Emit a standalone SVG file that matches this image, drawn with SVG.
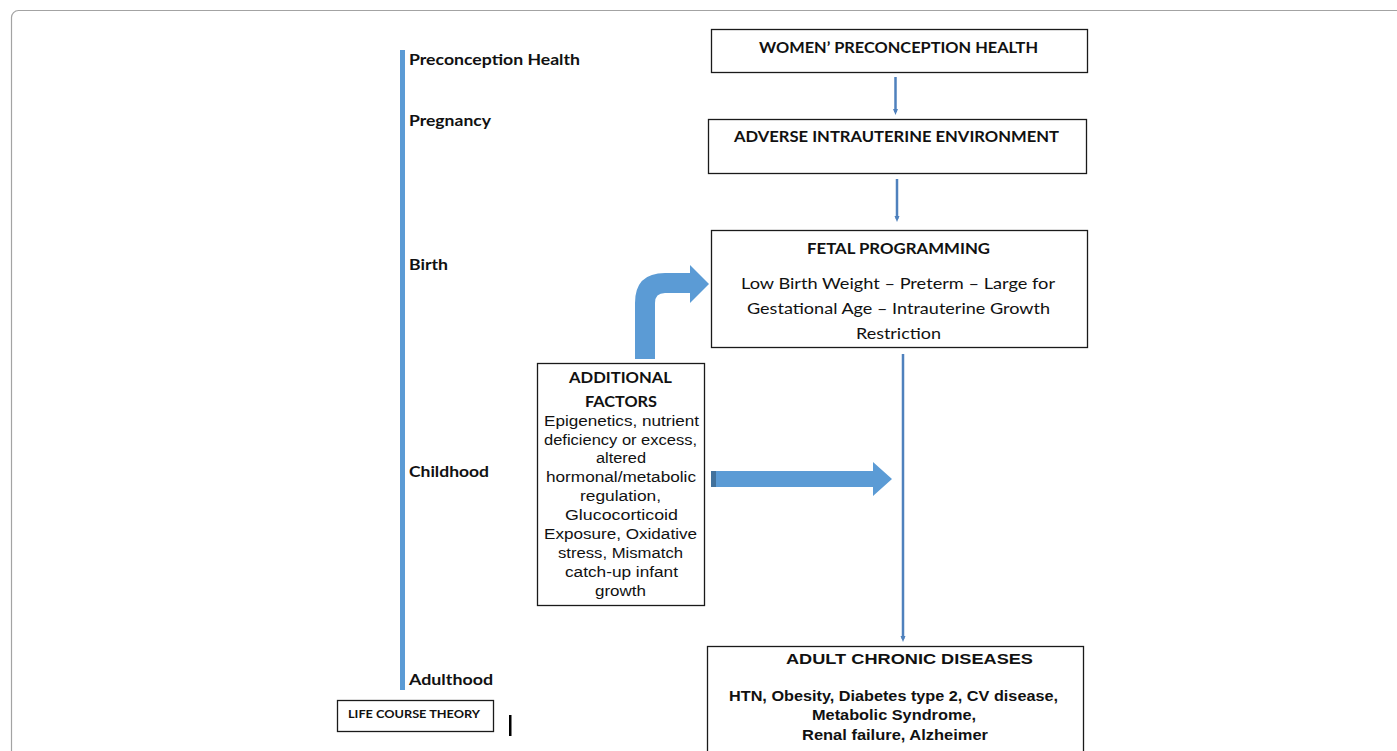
<svg xmlns="http://www.w3.org/2000/svg" width="1397" height="751" viewBox="0 0 1397 751">
<style>
.box{fill:#fff;stroke:#1a1a1a;stroke-width:1.3}
.cal{font-family:Lato,"Liberation Sans",sans-serif;fill:#111}
.b{font-weight:bold}
.ar{font-family:"Liberation Sans",Arial,sans-serif;fill:#111}
.conn{stroke:#4f81bd;stroke-width:2.5;fill:none}
.fat{fill:#5b9bd5}
</style>
<defs>
<marker id="ah" markerWidth="6" markerHeight="6" refX="3" refY="3" orient="auto" markerUnits="userSpaceOnUse">
<path d="M0,0.5 L6,3 L0,5.5 Z" fill="#4f81bd"/>
</marker>
</defs>
<rect x="11.5" y="10.5" width="1400" height="760" rx="7" fill="#fff" stroke="#a3a3a3" stroke-width="1.2"/>

<g id="timeline">
<rect x="400" y="50" width="5" height="640" fill="#5b9bd5"/>
<text class="cal b" x="409" y="65" font-size="16" textLength="171" lengthAdjust="spacingAndGlyphs">Preconception Health</text>
<text class="cal b" x="409" y="126" font-size="16" textLength="82" lengthAdjust="spacingAndGlyphs">Pregnancy</text>
<text class="cal b" x="409" y="270" font-size="16" textLength="39" lengthAdjust="spacingAndGlyphs">Birth</text>
<text class="cal b" x="409" y="477" font-size="16" textLength="80" lengthAdjust="spacingAndGlyphs">Childhood</text>
<text class="cal b" x="409" y="685" font-size="16" textLength="84" lengthAdjust="spacingAndGlyphs">Adulthood</text>
</g>

<g id="life-course-theory">
<rect class="box" x="337.5" y="700.5" width="156" height="31"/>
<text class="cal b" x="348" y="718" font-size="11" fill="#1f2a44" textLength="132" lengthAdjust="spacingAndGlyphs">LIFE COURSE THEORY</text>
</g>
<rect x="509" y="715" width="2.5" height="21" fill="#000"/>

<g id="women-preconception-health">
<rect class="box" x="711.5" y="29.5" width="376" height="43"/>
<text class="cal b" x="898.5" y="53" font-size="16" text-anchor="middle" textLength="279" lengthAdjust="spacingAndGlyphs">WOMEN’ PRECONCEPTION HEALTH</text>
</g>

<g id="adverse-intrauterine-environment">
<rect class="box" x="708.5" y="119.5" width="378" height="54"/>
<text class="cal b" x="896.5" y="142" font-size="16" text-anchor="middle" textLength="325" lengthAdjust="spacingAndGlyphs">ADVERSE INTRAUTERINE ENVIRONMENT</text>
</g>

<g id="fetal-programming">
<rect class="box" x="711.5" y="230.5" width="376" height="117"/>
<text class="cal b" x="898.5" y="254" font-size="16" text-anchor="middle" textLength="183" lengthAdjust="spacingAndGlyphs">FETAL PROGRAMMING</text>
<text class="cal" x="898" y="289" font-size="16" text-anchor="middle" textLength="314" lengthAdjust="spacingAndGlyphs">Low Birth Weight – Preterm – Large for</text>
<text class="cal" x="898.5" y="314" font-size="16" text-anchor="middle" textLength="303" lengthAdjust="spacingAndGlyphs">Gestational Age – Intrauterine Growth</text>
<text class="cal" x="898.5" y="339" font-size="16" text-anchor="middle" textLength="85" lengthAdjust="spacingAndGlyphs">Restriction</text>
</g>

<g id="additional-factors">
<rect class="box" x="537.5" y="363.5" width="167" height="242"/>
<text class="cal b" x="620.5" y="383" font-size="16" text-anchor="middle" textLength="103" lengthAdjust="spacingAndGlyphs">ADDITIONAL</text>
<text class="cal b" x="621" y="407" font-size="16" text-anchor="middle" textLength="72" lengthAdjust="spacingAndGlyphs">FACTORS</text>
<text class="ar" x="621.5" y="426" font-size="14" text-anchor="middle" textLength="155" lengthAdjust="spacingAndGlyphs">Epigenetics, nutrient</text>
<text class="ar" x="620.5" y="445" font-size="14" text-anchor="middle" textLength="153" lengthAdjust="spacingAndGlyphs">deficiency or excess,</text>
<text class="ar" x="621" y="463" font-size="14" text-anchor="middle" textLength="50" lengthAdjust="spacingAndGlyphs">altered</text>
<text class="ar" x="621" y="482" font-size="14" text-anchor="middle" textLength="150" lengthAdjust="spacingAndGlyphs">hormonal/metabolic</text>
<text class="ar" x="620.5" y="501" font-size="14" text-anchor="middle" textLength="81" lengthAdjust="spacingAndGlyphs">regulation,</text>
<text class="ar" x="621.5" y="520" font-size="14" text-anchor="middle" textLength="113" lengthAdjust="spacingAndGlyphs">Glucocorticoid</text>
<text class="ar" x="620.5" y="539" font-size="14" text-anchor="middle" textLength="153" lengthAdjust="spacingAndGlyphs">Exposure, Oxidative</text>
<text class="ar" x="620.5" y="558" font-size="14" text-anchor="middle" textLength="125" lengthAdjust="spacingAndGlyphs">stress, Mismatch</text>
<text class="ar" x="621.5" y="577" font-size="14" text-anchor="middle" textLength="113" lengthAdjust="spacingAndGlyphs">catch-up infant</text>
<text class="ar" x="620.5" y="596" font-size="14" text-anchor="middle" textLength="51" lengthAdjust="spacingAndGlyphs">growth</text>
</g>

<g id="adult-chronic-diseases">
<rect class="box" x="707.5" y="646.5" width="376" height="120"/>
<text class="ar b" x="909.5" y="664" font-size="15" text-anchor="middle" textLength="247" lengthAdjust="spacingAndGlyphs">ADULT CHRONIC DISEASES</text>
<text class="ar b" x="893.5" y="701" font-size="15" text-anchor="middle" textLength="329" lengthAdjust="spacingAndGlyphs">HTN, Obesity, Diabetes type 2, CV disease,</text>
<text class="ar b" x="894" y="720" font-size="15" text-anchor="middle" textLength="164" lengthAdjust="spacingAndGlyphs">Metabolic Syndrome,</text>
<text class="ar b" x="895" y="740" font-size="15" text-anchor="middle" textLength="186" lengthAdjust="spacingAndGlyphs">Renal failure, Alzheimer</text>
</g>

<g id="connectors">
<line class="conn" x1="895.5" y1="77" x2="895.5" y2="112" marker-end="url(#ah)"/>
<line class="conn" x1="897" y1="179" x2="897" y2="219" marker-end="url(#ah)"/>
<line class="conn" x1="903" y1="354" x2="903" y2="639" marker-end="url(#ah)"/>
<path class="fat" d="M635,359 L635,303 Q635,273 665,273 L690,273 L690,265 L709,284 L690,303 L690,293 L665,293 Q655,293 655,303 L655,359 Z"/>
<path class="fat" d="M711,471 L873,471 L873,462 L892,479 L873,496 L873,487 L711,487 Z"/>
<rect x="711" y="471" width="5" height="16" fill="#41719c"/>
</g>
</svg>
